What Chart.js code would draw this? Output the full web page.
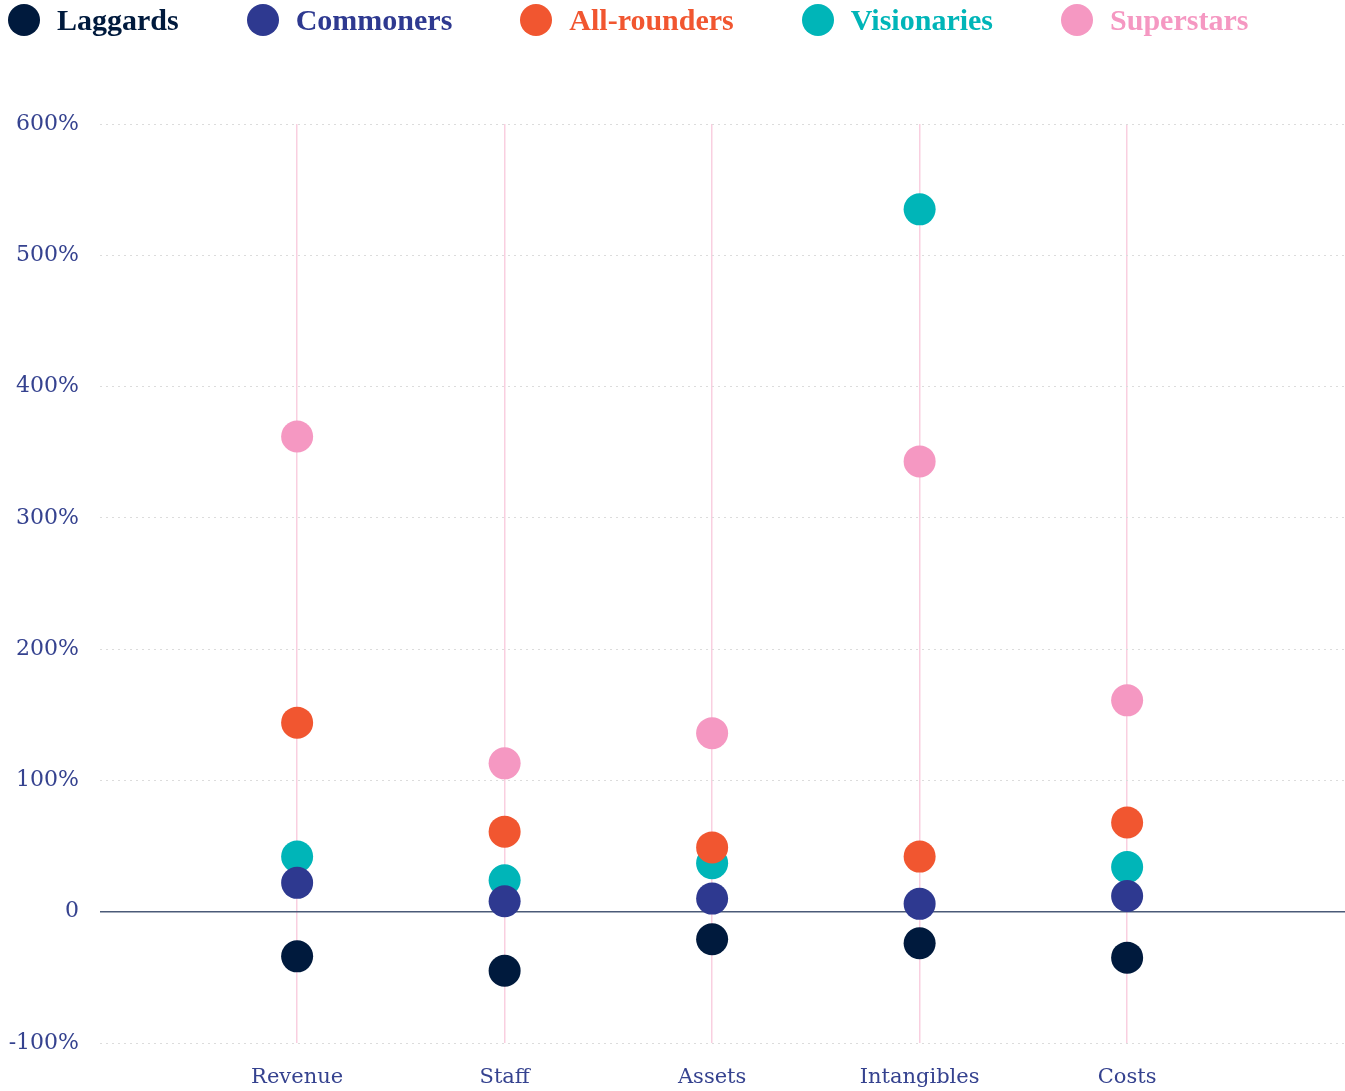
<!DOCTYPE html>
<html>
<head>
<meta charset="utf-8">
<script src="https://cdn.jsdelivr.net/npm/chart.js@4"></script>
<style>
  html, body { margin: 0; padding: 0; background: #fff; overflow: hidden; }
  #wrap { position: relative; width: 1345px; height: 1091px; }
  #chart { display: block; }
  #legend { position: absolute; left: 8px; top: 4px; display: flex; align-items: center; height: 32px; }
  .item { display: flex; align-items: center; margin-right: 68px; }
  .dot { width: 32px; height: 32px; border-radius: 50%; margin-right: 17px; }
  .lbl { font-family: "Liberation Serif", serif; font-weight: bold; font-size: 30px; line-height: 32px; }
</style>
</head>
<body>
<div id="wrap">
  <div id="legend"></div>
  <canvas id="chart" width="1345" height="1091"></canvas>
</div>
<script>
// --- 데이터 ---
const categories = ["Revenue", "Staff", "Assets", "Intangibles", "Costs"];
const seriesNames = ["Laggards", "Commoners", "All-rounders", "Visionaries", "Superstars"];
const seriesColors = ["#001a3d", "#2e3990", "#f15630", "#00b5b8", "#f598c2"];

const laggards    = [-34, -45, -21, -24, -35];
const commoners   = [22, 8, 10, 6, 12];
const allRounders = [144, 61, 49, 42, 68];
const visionaries = [42, 24, 37, 535, 34];
const superstars  = [362, 113, 136, 343, 161];

const yTicks = [-100, 0, 100, 200, 300, 400, 500, 600];

const seriesValues = [laggards, commoners, allRounders, visionaries, superstars];
const tickColor = "#35428f";

// 범례 (HTML)
const legendEl = document.getElementById('legend');
seriesNames.forEach((name, i) => {
    const item = document.createElement('div');
    item.className = 'item';
    item.innerHTML = `<span class="dot" style="background:${seriesColors[i]}"></span><span class="lbl" style="color:${seriesColors[i]}">${name}</span>`;
    legendEl.appendChild(item);
});

const datasets = seriesNames.map((name, i) => ({
    label: name,
    data: seriesValues[i].map((v, j) => ({ x: j, y: v })),
    backgroundColor: seriesColors[i],
    borderColor: seriesColors[i],
    borderWidth: 0,
    pointRadius: 16,
    pointHoverRadius: 16
}));

const isZero = (c) => c.tick && c.tick.value === 0;

const ctx = document.getElementById('chart').getContext('2d');
new Chart(ctx, {
    type: 'scatter',
    data: { datasets: datasets },
    options: {
        responsive: false,
        animation: false,
        layout: {
            autoPadding: false,
            padding: { top: 124, right: 0, left: 0, bottom: 0 }
        },
        plugins: {
            legend: { display: false },
            tooltip: { enabled: false }
        },
        scales: {
            x: {
                type: 'linear',
                min: -0.95,
                max: 5.05,
                afterBuildTicks: (axis) => {
                    axis.ticks = categories.map((c, i) => ({ value: i }));
                },
                afterFit: (axis) => { axis.height = 48; },
                border: { display: false },
                grid: {
                    color: '#f9cfe0',
                    lineWidth: 1.5,
                    drawTicks: false
                },
                ticks: {
                    padding: 22,
                    color: tickColor,
                    font: { family: '"DejaVu Serif", serif', size: 21 },
                    callback: (v) => categories[v]
                }
            },
            y: {
                min: -100,
                max: 600,
                afterBuildTicks: (axis) => {
                    axis.ticks = yTicks.map(v => ({ value: v }));
                },
                afterFit: (axis) => { axis.width = 100; },
                border: {
                    display: false,
                    dash: (c) => isZero(c) ? [] : [2, 4]
                },
                grid: {
                    drawTicks: false,
                    color: (c) => isZero(c) ? '#4b5a78' : '#dcdcdc',
                    lineWidth: (c) => isZero(c) ? 1.5 : 1
                },
                ticks: {
                    padding: 21,
                    color: tickColor,
                    font: { family: '"DejaVu Serif", serif', size: 22 },
                    callback: (v) => v === 0 ? '0' : v + '%'
                }
            }
        }
    }
});
</script>
</body>
</html>
